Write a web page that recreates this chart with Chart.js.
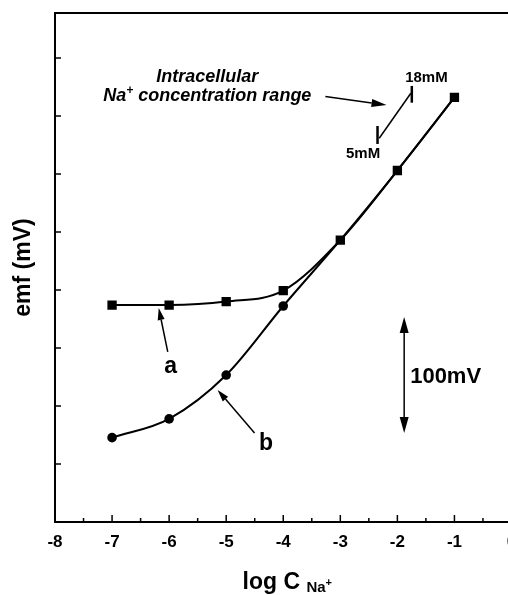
<!DOCTYPE html>
<html><head><meta charset="utf-8">
<script src="https://cdn.jsdelivr.net/npm/chart.js@4.4.1/dist/chart.umd.min.js"></script>
<style>
html,body{margin:0;padding:0;overflow:hidden;background:#fff;width:508px;height:595px}
#wrap{position:absolute;left:0;top:0;width:540px;height:595px}
</style>
</head><body>
<div id="wrap"><canvas id="c" width="540" height="595"></canvas></div>
<script>
// ---- data ----
const logConc = [-7, -6, -5, -4, -3, -2, -1];
const emfA = [187, 187, 190, 199.5, 243, 303, 366];
const emfB = [72.7, 88.9, 126.7, 186.2, 243, 303, 366];
const markerB = [true, true, true, true, false, false, false];
const xTickLabels = ['-8', '-7', '-6', '-5', '-4', '-3', '-2', '-1', '0'];

const FONT = '"Liberation Sans", Arial, Helvetica, sans-serif';

function line(ctx, x1, y1, x2, y2) { ctx.beginPath(); ctx.moveTo(x1, y1); ctx.lineTo(x2, y2); ctx.stroke(); }
function arrow(ctx, x1, y1, x2, y2, len, wid) {
  const a = Math.atan2(y2 - y1, x2 - x1);
  const bx = x2 - Math.cos(a) * len, by = y2 - Math.sin(a) * len;
  line(ctx, x1, y1, bx, by);
  ctx.beginPath();
  ctx.moveTo(x2, y2);
  ctx.lineTo(bx + Math.sin(a) * wid / 2, by - Math.cos(a) * wid / 2);
  ctx.lineTo(bx - Math.sin(a) * wid / 2, by + Math.cos(a) * wid / 2);
  ctx.closePath(); ctx.fill();
}
function text(ctx, s, x, y, font, align) {
  ctx.font = font; ctx.textAlign = align || 'left'; ctx.textBaseline = 'alphabetic';
  ctx.fillText(s, x, y);
}

const decor = {
  id: 'decor',
  afterDraw(chart) {
    const { ctx, chartArea: ca, scales: { x, y } } = chart;
    const X = v => x.getPixelForValue(v), Y = v => y.getPixelForValue(v);
    ctx.save();
    ctx.strokeStyle = '#000'; ctx.fillStyle = '#000';
    // frame
    ctx.lineWidth = 2;
    ctx.strokeRect(ca.left, ca.top, ca.right - ca.left, ca.bottom - ca.top);
    // inward ticks
    ctx.lineWidth = 1.5;
    y.ticks.forEach(t => {
      if (t.value > 0 && t.value < y.max && Math.abs(t.value % 50) < 1e-6) {
        const py = Y(t.value); line(ctx, ca.left, py, ca.left + 6, py);
      }
    });
    x.ticks.forEach(t => {
      if (t.value > x.min && t.value < x.max) { const px = X(t.value); line(ctx, px, ca.bottom, px, ca.bottom - 7); }
      if (t.value + 0.5 < x.max) { const pm = X(t.value + 0.5); line(ctx, pm, ca.bottom, pm, ca.bottom - 4); }
    });

    // annotations
    const bi = 'italic bold 18px ' + FONT;
    text(ctx, 'Intracellular', X(-5.33), Y(379.3), bi, 'center');
    // "Na+ concentration range" with superscript
    ctx.font = bi;
    const w1 = ctx.measureText('Na').width;
    ctx.font = 'italic bold 12px ' + FONT;
    const w2 = ctx.measureText('+').width;
    ctx.font = bi;
    const w3 = ctx.measureText(' concentration range').width;
    let sx = X(-5.33) - (w1 + w2 + w3) / 2, by = Y(362.9);
    text(ctx, 'Na', sx, by, bi); sx += w1;
    text(ctx, '+', sx, by - 7, 'italic bold 12px ' + FONT); sx += w2;
    text(ctx, ' concentration range', sx, by, bi);

    ctx.lineWidth = 1.5;
    arrow(ctx, X(-3.262), Y(366.8), X(-2.190), Y(359.5), 15, 8);
    // concentration range segment
    line(ctx, X(-2.318), Y(330.8), X(-1.764), Y(369.6));
    ctx.lineWidth = 2.5;
    line(ctx, X(-2.348), Y(325.9), X(-2.348), Y(341.4));
    line(ctx, X(-1.747), Y(361.5), X(-1.747), Y(375.9));
    const sm = 'bold 15px ' + FONT;
    text(ctx, '18mM', X(-1.864), Y(379.6), sm);
    text(ctx, '5mM', X(-2.90), Y(313.5), sm);

    // a / b labels and arrows
    const lab = 'bold 23px ' + FONT;
    ctx.lineWidth = 1.5;
    arrow(ctx, X(-6.024), Y(146.6), X(-6.182), Y(184.5), 12, 7);
    text(ctx, 'a', X(-5.972), Y(128.4), lab, 'center');
    arrow(ctx, X(-4.503), Y(76.7), X(-5.150), Y(113.8), 12, 7);
    text(ctx, 'b', X(-4.302), Y(62.1), lab, 'center');

    // 100 mV scale bar
    const sxb = X(-1.881);
    const yTop = Y(176.7), yBot = Y(76.7), ym = (yTop + yBot) / 2;
    arrow(ctx, sxb, ym, sxb, yTop, 16, 9);
    arrow(ctx, sxb, ym, sxb, yBot, 16, 9);
    text(ctx, '100mV', X(-1.776), Y(119.8), 'bold 22px ' + FONT);

    // axis titles
    ctx.save();
    ctx.translate(24, (ca.top + ca.bottom) / 2);
    ctx.rotate(-Math.PI / 2);
    ctx.font = 'bold 23px ' + FONT; ctx.textAlign = 'center'; ctx.textBaseline = 'middle';
    ctx.fillText('emf (mV)', 0, 0);
    ctx.restore();

    const tf = 'bold 23px ' + FONT, sf = 'bold 15px ' + FONT, pf = 'bold 11px ' + FONT;
    ctx.font = tf; const t1 = ctx.measureText('log C ').width;
    ctx.font = sf; const t2 = ctx.measureText('Na').width;
    ctx.font = pf; const t3 = ctx.measureText('+').width;
    let tx = (ca.left + ca.right) / 2 + 4 - (t1 + t2 + t3) / 2;
    const tb = 589;
    text(ctx, 'log C ', tx, tb, tf); tx += t1;
    text(ctx, 'Na', tx, tb + 3, sf); tx += t2;
    text(ctx, '+', tx, tb - 3, pf);
    ctx.restore();
  }
};

new Chart(document.getElementById('c'), {
  type: 'line',
  data: {
    datasets: [
      {
        label: 'a',
        data: logConc.map((v, i) => ({ x: v, y: emfA[i] })),
        borderColor: '#000', backgroundColor: '#000', borderWidth: 2,
        pointStyle: 'rect', pointRadius: 6.6, pointBorderWidth: 0,
        cubicInterpolationMode: 'monotone'
      },
      {
        label: 'b',
        data: logConc.map((v, i) => ({ x: v, y: emfB[i] })),
        borderColor: '#000', backgroundColor: '#000', borderWidth: 2,
        pointStyle: 'circle', pointRadius: markerB.map(m => m ? 4.8 : 0), pointBorderWidth: 0,
        cubicInterpolationMode: 'monotone'
      }
    ]
  },
  options: {
    responsive: false,
    animation: false,
    layout: { padding: { top: 13, right: 28.5, left: 0, bottom: 0 } },
    plugins: { legend: { display: false }, tooltip: { enabled: false } },
    scales: {
      x: {
        type: 'linear', min: -8, max: 0,
        afterFit(s) { s.height = 73; },
        ticks: {
          stepSize: 1, autoSkip: false, maxRotation: 0, padding: 10, color: '#000',
          font: { family: FONT, size: 17, weight: 'bold' },
          callback: (v, i) => xTickLabels[i]
        },
        grid: { display: false, drawTicks: false },
        border: { display: false }
      },
      y: {
        type: 'linear', min: 0, max: 438.8,
        afterFit(s) { s.width = 55; },
        ticks: { display: false, stepSize: 50 },
        grid: { display: false, drawTicks: false },
        border: { display: false }
      }
    }
  },
  plugins: [decor]
});
</script>
</body></html>
